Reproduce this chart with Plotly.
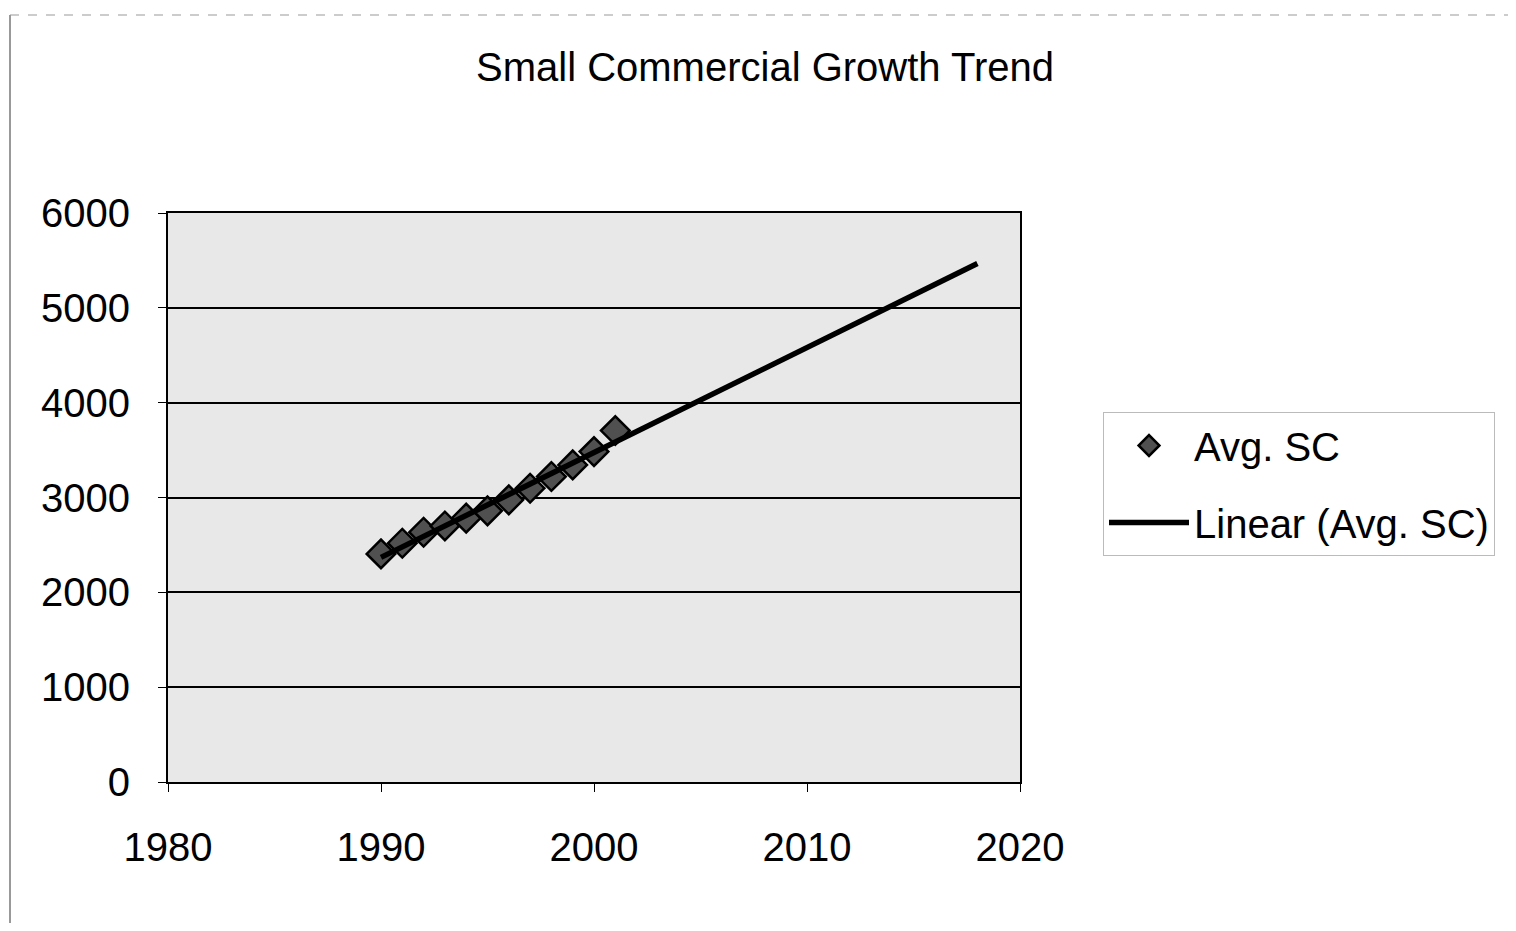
import numpy as np
import plotly.graph_objects as go

# ---- data ----
years = [1990, 1991, 1992, 1993, 1994, 1995, 1996, 1997, 1998, 1999, 2000, 2001]
avg_sc = [2405, 2518, 2634, 2700, 2782, 2859, 2975, 3098, 3221, 3344, 3484, 3706]
trend_end_year = 2018  # Excel trendline forecast end
x_ticks = [1980, 1990, 2000, 2010, 2020]
y_ticks = [0, 1000, 2000, 3000, 4000, 5000, 6000]
title_text = "Small Commercial Growth Trend"
series_name = "Avg. SC"
trend_name = "Linear (Avg. SC)"

# linear trendline (least squares), as Excel computes it
slope, intercept = np.polyfit(years, avg_sc, 1)
trend_x = [years[0], trend_end_year]
trend_y = [slope * x + intercept for x in trend_x]

FONT = "Liberation Sans, Arial, sans-serif"

fig = go.Figure()
fig.add_trace(go.Scatter(
    x=years, y=avg_sc, mode="markers", name=series_name, legendgroup="a",
    marker=dict(symbol="diamond", size=22, color="#505050",
                line=dict(color="black", width=2.5)),
))
fig.add_trace(go.Scatter(
    x=trend_x, y=trend_y, mode="lines", name=trend_name, legendgroup="b",
    line=dict(color="black", width=5.5),
))

fig.update_layout(
    width=1500, height=915,
    margin=dict(l=160, r=488, t=205, b=141),
    paper_bgcolor="white",
    plot_bgcolor="#e8e8e8",
    font=dict(family=FONT, color="black", size=40),
    title=dict(text=title_text, x=(765 - 8) / 1500, xanchor="center",
               y=1 - (67 - 8) / 915, yanchor="middle",
               font=dict(family=FONT, size=40, color="black")),
    showlegend=True,
    legend=dict(x=(1103 - 168) / 852, xanchor="left",
                y=(782 - 412) / 569, yanchor="top",
                bgcolor="white", bordercolor="#bbbbbb", borderwidth=1,
                font=dict(family=FONT, size=40, color="black"),
                itemwidth=80, tracegroupgap=22),
    xaxis=dict(range=[1980, 2020], tickmode="array", tickvals=x_ticks,
               ticktext=[str(v) for v in x_ticks],
               showgrid=False, zeroline=False,
               showline=True, linecolor="black", linewidth=2, mirror=True,
               ticks="outside", ticklen=8, tickcolor="black",
               tickfont=dict(family=FONT, size=40), ticklabelstandoff=21),
    yaxis=dict(range=[0, 6000], tickmode="array", tickvals=y_ticks,
               ticktext=[str(v) for v in y_ticks],
               showgrid=True, gridcolor="black", gridwidth=2,
               zeroline=False,
               showline=True, linecolor="black", linewidth=2, mirror=True,
               ticks="outside", ticklen=8, tickcolor="black",
               tickfont=dict(family=FONT, size=40), ticklabelstandoff=20),
)

# faint outer chart border (scanned frame)
fig.add_shape(type="line", xref="paper", yref="paper",
              x0=(10 - 168) / 852, x1=(10 - 168) / 852,
              y0=(782 - 15) / 569, y1=(782 - 923) / 569,
              line=dict(color="#777777", width=1.5))
fig.add_shape(type="line", xref="paper", yref="paper",
              x0=(10 - 168) / 852, x1=(1508 - 168) / 852,
              y0=(782 - 15) / 569, y1=(782 - 15) / 569,
              line=dict(color="#999999", width=1, dash="dash"))

fig.write_html("out.html")
